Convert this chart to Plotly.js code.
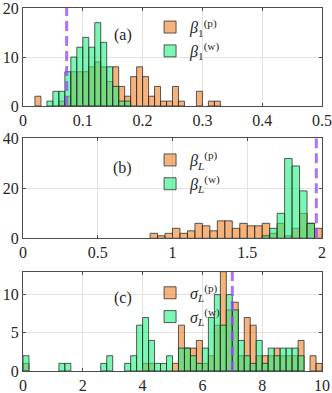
<!DOCTYPE html>
<html>
<head>
<meta charset="utf-8">
<script src="https://cdn.plot.ly/plotly-3.0.1.min.js"></script>
<style>
  html, body { margin: 0; padding: 0; background: #fff; }
  #chart { width: 332px; height: 393px; }
</style>
</head>
<body>
<div id="chart"></div>
<script>
// Histogram bins: left edges and counts (only non-empty bins listed)
// (a) beta_1
const binA = 0.01;
const aEdgesP = [0.02, 0.06, 0.07, 0.08, 0.09, 0.10, 0.11, 0.12, 0.13, 0.14, 0.15, 0.16, 0.17, 0.18, 0.19, 0.20, 0.21, 0.22, 0.23, 0.24, 0.25, 0.26, 0.29, 0.31, 0.32];
const aCountsP = [2, 1, 2, 7, 7, 7, 8, 9, 8, 5, 8, 4, 2, 6, 8, 6, 2, 4, 1, 1, 4, 1, 3, 1, 1];
const aEdgesW = [0.04, 0.05, 0.06, 0.07, 0.08, 0.09, 0.10, 0.11, 0.12, 0.13, 0.14, 0.15, 0.16, 0.17];
const aCountsW = [1, 3, 3, 7, 10, 12, 14, 12, 17, 13, 8, 4, 1, 1];

// (b) beta_L
const binB = 0.05;
const bEdgesP = [0.85, 0.90, 0.95, 1.00, 1.05, 1.10, 1.15, 1.20, 1.25, 1.30, 1.35, 1.40, 1.45, 1.50, 1.55, 1.60, 1.65, 1.70, 1.75, 1.80, 1.85, 1.90, 1.95];
const bCountsP = [2, 1, 2, 4, 2, 3, 6, 5, 3, 7, 7, 4, 6, 5, 5, 6, 2, 6, 1, 4, 10, 6, 4];
const bEdgesW = [1.60, 1.65, 1.70, 1.75, 1.80, 1.85, 1.90];
const bCountsW = [1, 4, 10, 32, 29, 19, 6];

// (c) sigma_L
const binC = 0.2;
const cEdgesP = [0.0, 4.0, 4.2, 5.0, 5.2, 5.4, 5.6, 5.8, 6.0, 6.2, 6.4, 6.6, 6.8, 7.0, 7.2, 7.4, 7.6, 7.8, 8.0, 8.2, 8.4, 8.6, 8.8, 9.0, 9.2, 9.6, 9.8];
const cCountsP = [1, 1, 1, 1, 6, 3, 3, 4, 1, 2, 6, 13, 8, 9, 2, 7, 6, 2, 2, 2, 3, 2, 2, 2, 4, 2, 1];
const cEdgesW = [0.0, 1.2, 1.4, 2.6, 2.8, 3.4, 3.6, 3.8, 4.0, 4.2, 4.4, 4.6, 4.8, 5.2, 5.4, 5.6, 5.8, 6.0, 6.2, 6.4, 6.6, 6.8, 7.0, 7.2, 7.4, 7.6, 7.8, 8.0, 8.2, 8.4, 8.6, 8.8, 9.0, 9.2];
const cCountsW = [2, 1, 1, 1, 2, 1, 2, 6, 7, 4, 1, 1, 2, 3, 3, 2, 1, 3, 7, 10, 6, 10, 8, 4, 2, 1, 4, 1, 3, 2, 3, 3, 3, 2];

// reference (dashed) values per panel
const refValues = [0.073, 1.962, 7.0];
const panelLabels = ['(a)', '(b)', '(c)'];

const orange = 'rgba(238,130,38,0.6)';
const green = 'rgba(38,238,130,0.6)';
const edge = 'rgba(30,30,30,0.9)';
const serif = 'Liberation Serif, Times New Roman, serif';

function bars(edges, counts, width, color, name, ax, leg) {
  return {
    type: 'bar',
    x: edges,
    y: counts,
    width: width,
    offset: 0,
    name: name,
    marker: { color: color, line: { color: edge, width: 0.8 } },
    xaxis: 'x' + ax,
    yaxis: 'y' + ax,
    legend: leg,
    hoverinfo: 'skip'
  };
}

let data = [
  bars(aEdgesP, aCountsP, binA, orange, '<i>β</i><sub>1</sub><sup>(p)</sup>', '', 'legend'),
  bars(aEdgesW, aCountsW, binA, green, '<i>β</i><sub>1</sub><sup>(w)</sup>', '', 'legend'),
  bars(bEdgesP, bCountsP, binB, orange, '<i>β</i><sub><i>L</i></sub><sup>(p)</sup>', '2', 'legend2'),
  bars(bEdgesW, bCountsW, binB, green, '<i>β</i><sub><i>L</i></sub><sup>(w)</sup>', '2', 'legend2'),
  bars(cEdgesP, cCountsP, binC, orange, '<i>σ</i><sub><i>L</i></sub><sup>(p)</sup>', '3', 'legend3'),
  bars(cEdgesW, cCountsW, binC, green, '<i>σ</i><sub><i>L</i></sub><sup>(w)</sup>', '3', 'legend3')
];

function xAxis(range, dtick, anchor) {
  return {
    range: range, dtick: dtick, anchor: anchor,
    showline: true, mirror: 'ticks', linecolor: '#4d4d4d', linewidth: 1,
    ticks: 'inside', ticklen: 3, tickcolor: '#4d4d4d',
    showgrid: true, gridcolor: '#e3e3e3', zeroline: false,
    ticklabeloverflow: 'allow',
    tickfont: { family: serif, size: 16, color: '#262626' }
  };
}
function yAxis(range, tickvals, domain, anchor) {
  return {
    range: range, tickvals: tickvals, domain: domain, anchor: anchor,
    showline: true, mirror: 'ticks', linecolor: '#4d4d4d', linewidth: 1,
    ticks: 'inside', ticklen: 3, tickcolor: '#4d4d4d',
    showgrid: true, gridcolor: '#e3e3e3', zeroline: false,
    ticklabeloverflow: 'allow',
    tickfont: { family: serif, size: 16, color: '#262626' }
  };
}
function legendAt(y) {
  return {
    x: 0.425, y: y, xanchor: 'left', yanchor: 'top',
    bgcolor: 'rgba(0,0,0,0)', borderwidth: 0,
    font: { family: serif, size: 16, color: '#262626' },
    tracegroupgap: 0, traceorder: 'normal'
  };
}

const domains = [[0.730, 1], [0.3656, 0.6405], [0, 0.2736]];
const axisNames = ['', '2', '3'];

let shapes = refValues.map((v, i) => ({
  type: 'line', xref: 'x' + axisNames[i], yref: 'y' + axisNames[i] + ' domain',
  x0: v, x1: v, y0: 0, y1: 1,
  line: { color: 'rgba(150,80,250,0.8)', width: 3, dash: '10px,5px' }
}));

let annotations = panelLabels.map((t, i) => ({
  text: t, xref: 'paper', yref: 'y' + axisNames[i] + ' domain',
  x: 0.334, y: [0.84, 0.81, 0.846][i], showarrow: false,
  font: { family: serif, size: 16, color: '#262626' }
}));

let layout = {
  width: 332, height: 393,
  margin: { l: 23, r: 10, t: 8, b: 22 },
  paper_bgcolor: '#fff', plot_bgcolor: '#fff',
  barmode: 'overlay',
  showlegend: true,
  xaxis: xAxis([0, 0.5], 0.1, 'y'),
  yaxis: yAxis([0, 20], [0, 10, 20], domains[0], 'x'),
  xaxis2: xAxis([0, 2], 0.5, 'y2'),
  yaxis2: yAxis([0, 40], [0, 20, 40], domains[1], 'x2'),
  xaxis3: xAxis([0, 10], 2, 'y3'),
  yaxis3: yAxis([0, 13], [0, 5, 10], domains[2], 'x3'),
  legend: legendAt(0.994),
  legend2: legendAt(0.628),
  legend3: legendAt(0.262),
  shapes: shapes,
  annotations: annotations
};

Plotly.newPlot('chart', data, layout, { staticPlot: true, displayModeBar: false });
</script>
</body>
</html>
